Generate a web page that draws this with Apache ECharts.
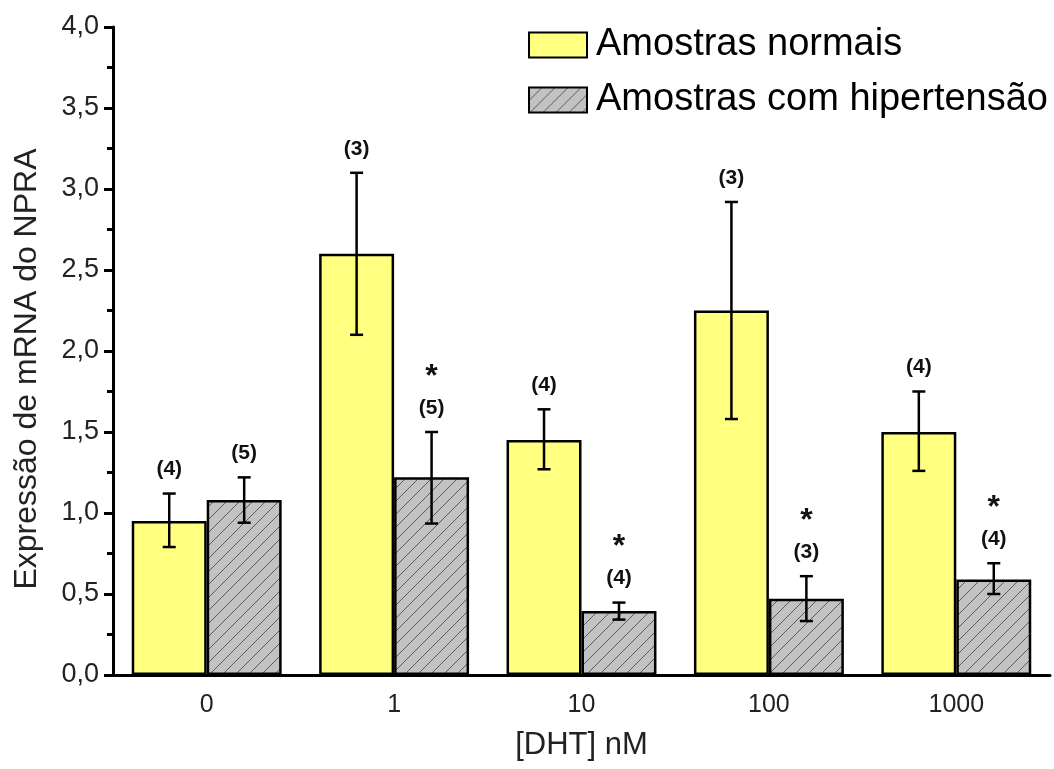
<!DOCTYPE html>
<html>
<head>
<meta charset="utf-8">
<script src="https://cdn.jsdelivr.net/npm/echarts@6/dist/echarts.min.js"></script>
<style>html,body{margin:0;padding:0;background:#fff;}#c{width:1054px;height:769px;}</style>
</head>
<body>
<div id="c"></div>
<script>
const categories = ['0', '1', '10', '100', '1000'];
const normalMean = [0.95, 2.60, 1.45, 2.25, 1.50];
const normalHigh = [1.12, 3.10, 1.64, 2.92, 1.75];
const normalLow  = [0.79, 2.10, 1.27, 1.58, 1.26];
const hyperMean  = [1.08, 1.22, 0.395, 0.47, 0.59];
const hyperHigh  = [1.22, 1.50, 0.447, 0.61, 0.69];
const hyperLow   = [0.94, 0.935, 0.342, 0.333, 0.50];
const normalN = ['(4)', '(3)', '(4)', '(3)', '(4)'];
const hyperN  = ['(5)', '(5)', '(4)', '(3)', '(4)'];
const hyperSig = ['', '*', '*', '*', '*'];
const yTicks = [0, 0.5, 1, 1.5, 2, 2.5, 3, 3.5, 4];

const FONT = 'Liberation Sans, Arial, sans-serif';

// hatch pattern
function makeHatch() {
  const s = 13;
  const cv = document.createElement('canvas');
  cv.width = s; cv.height = s;
  const ctx = cv.getContext('2d');
  ctx.fillStyle = '#c2c2c2';
  ctx.fillRect(0, 0, s, s);
  ctx.strokeStyle = '#5a5a5a';
  ctx.lineWidth = 1;
  ctx.beginPath();
  ctx.moveTo(-1, s + 1); ctx.lineTo(s + 1, -1);
  ctx.moveTo(-1, 1); ctx.lineTo(1, -1);
  ctx.moveTo(s - 1, s + 1); ctx.lineTo(s + 1, s - 1);
  ctx.stroke();
  return cv;
}
const hatch = makeHatch();

function errData(high, low, nLab, sig) {
  return categories.map((c, i) => [i, low[i], high[i], nLab[i], sig ? sig[i] : '']);
}

function errRender(sign) {
  return function (params, api) {
    const i = api.value(0);
    const base = api.coord([i, api.value(1)]);
    const top = api.coord([i, api.value(2)]);
    const band = api.size([1, 0])[0];
    const x = base[0] + sign * band * 0.2;
    const cap = 6.5;
    const st = { stroke: '#000', lineWidth: 2.5 };
    const children = [
      { type: 'line', shape: { x1: x, y1: top[1], x2: x, y2: base[1] }, style: st },
      { type: 'line', shape: { x1: x - cap, y1: top[1], x2: x + cap, y2: top[1] }, style: st },
      { type: 'line', shape: { x1: x - cap, y1: base[1], x2: x + cap, y2: base[1] }, style: st },
      { type: 'text', x: x, y: top[1] - 24, style: { text: api.value(3), fill: '#111', font: 'bold 21px ' + FONT, align: 'center', verticalAlign: 'middle' } }
    ];
    const s = api.value(4);
    if (s) {
      children.push({ type: 'text', x: x, y: top[1] - 55, style: { text: s, fill: '#111', font: 'bold 32px ' + FONT, align: 'center', verticalAlign: 'middle' } });
    }
    return { type: 'group', children: children };
  };
}

const chart = echarts.init(document.getElementById('c'), null, { renderer: 'canvas' });
chart.setOption({
  animation: false,
  backgroundColor: '#fff',
  grid: { left: 113, right: 4, top: 27, bottom: 94, containLabel: false },
  legend: {
    orient: 'vertical',
    left: 523, top: 21,
    icon: 'rect',
    itemWidth: 58, itemHeight: 25, itemGap: 17,
    textStyle: { fontFamily: FONT, fontSize: 38, lineHeight: 38, color: '#000', padding: [0, 0, 0, 4] },
    data: ['Amostras normais', 'Amostras com hipertensão']
  },
  xAxis: [{
    type: 'category',
    data: categories,
    name: '[DHT] nM',
    nameLocation: 'middle',
    nameGap: 55,
    nameTextStyle: { fontFamily: FONT, fontSize: 31, color: '#222' },
    axisLine: { lineStyle: { color: '#000', width: 3 } },
    axisTick: { alignWithLabel: true, length: 9, lineStyle: { color: '#000', width: 3 } },
    axisLabel: { fontFamily: FONT, fontSize: 25, color: '#222', margin: 18 }
  }, {
    type: 'category',
    data: categories,
    position: 'bottom',
    axisLine: { show: false },
    axisTick: { alignWithLabel: false, length: 6, lineStyle: { color: '#000', width: 3 } },
    axisLabel: { show: false }
  }],
  yAxis: {
    type: 'value',
    min: 0, max: 4, interval: 0.5,
    name: 'Expressão de mRNA do NPRA',
    nameLocation: 'middle',
    nameGap: 70,
    nameTextStyle: { fontFamily: FONT, fontSize: 32, color: '#222', padding: [0, 36, 0, 0] },
    axisLine: { show: true, lineStyle: { color: '#000', width: 3 } },
    axisTick: { show: true, length: 9, lineStyle: { color: '#000', width: 3 } },
    minorTick: { show: true, splitNumber: 2, length: 6, lineStyle: { color: '#000', width: 3 } },
    splitLine: { show: false },
    axisLabel: {
      fontFamily: FONT, fontSize: 27, color: '#222', margin: 14,
      formatter: v => (yTicks.indexOf(v) >= 0 ? v.toFixed(1).replace('.', ',') : '')
    }
  },
  series: [{
    name: 'Amostras normais',
    type: 'bar',
    data: normalMean,
    barGap: '0%',
    barCategoryGap: '20%',
    itemStyle: { color: '#ffff80', borderColor: '#000', borderWidth: 2.5 }
  }, {
    name: 'Amostras com hipertensão',
    type: 'bar',
    data: hyperMean,
    barGap: '0%',
    barCategoryGap: '20%',
    itemStyle: { color: { image: hatch, repeat: 'repeat' }, borderColor: '#000', borderWidth: 2.5 }
  }, {
    type: 'custom',
    renderItem: errRender(-1),
    data: errData(normalHigh, normalLow, normalN, null),
    encode: { x: 0, y: [1, 2] },
    z: 5
  }, {
    type: 'custom',
    renderItem: errRender(1),
    data: errData(hyperHigh, hyperLow, hyperN, hyperSig),
    encode: { x: 0, y: [1, 2] },
    z: 5
  }]
});
</script>
</body>
</html>
